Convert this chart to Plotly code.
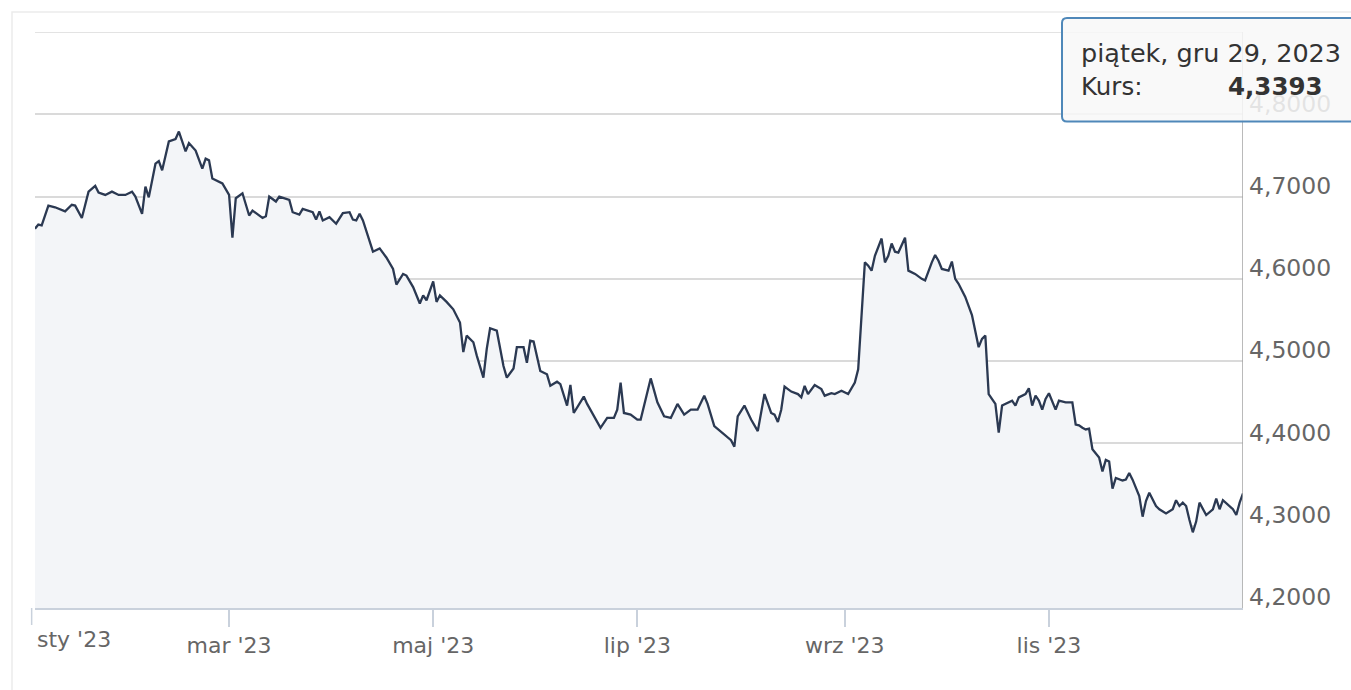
import plotly.graph_objects as go
import datetime as _dt

# ---------------- data ----------------
days = [
    "01-02", "01-03", "01-04", "01-06", "01-08", "01-11", "01-13", "01-14", "01-16", "01-18",
    "01-20", "01-21", "01-23", "01-25", "01-27", "01-29", "01-31", "02-01", "02-03", "02-04",
    "02-05", "02-07", "02-08", "02-09", "02-11", "02-13", "02-14", "02-16", "02-17", "02-19",
    "02-21", "02-22", "02-23", "02-24", "02-27", "03-01", "03-02", "03-03", "03-05", "03-07",
    "03-08", "03-11", "03-12", "03-13", "03-15", "03-16", "03-19", "03-20", "03-22", "03-23",
    "03-26", "03-27", "03-28", "03-29", "03-31", "04-02", "04-04", "04-06", "04-07", "04-08",
    "04-09", "04-10", "04-13", "04-15", "04-17", "04-19", "04-20", "04-22", "04-23", "04-25",
    "04-27", "04-28", "04-29", "05-01", "05-02", "05-03", "05-05", "05-07", "05-09", "05-10",
    "05-11", "05-13", "05-14", "05-16", "05-17", "05-18", "05-20", "05-22", "05-23", "05-25",
    "05-26", "05-28", "05-29", "05-30", "05-31", "06-02", "06-04", "06-05", "06-07", "06-08",
    "06-10", "06-11", "06-12", "06-15", "06-16", "06-18", "06-20", "06-22", "06-24", "06-25",
    "06-26", "06-27", "06-29", "07-01", "07-02", "07-05", "07-07", "07-09", "07-11", "07-13",
    "07-15", "07-17", "07-19", "07-21", "07-22", "07-24", "07-27", "07-29", "07-30", "07-31",
    "08-02", "08-04", "08-06", "08-08", "08-10", "08-11", "08-12", "08-13", "08-14", "08-16",
    "08-18", "08-19", "08-20", "08-21", "08-23", "08-25", "08-26", "08-28", "08-29", "08-31",
    "09-02", "09-04", "09-05", "09-06", "09-07", "09-08", "09-09", "09-10", "09-12", "09-13",
    "09-14", "09-15", "09-16", "09-17", "09-19", "09-20", "09-22", "09-24", "09-25", "09-27",
    "09-28", "09-29", "09-30", "10-02", "10-03", "10-04", "10-05", "10-07", "10-09", "10-11",
    "10-12", "10-13", "10-14", "10-16", "10-17", "10-18", "10-20", "10-21", "10-22", "10-23",
    "10-25", "10-26", "10-27", "10-28", "10-29", "10-30", "10-31", "11-01", "11-03", "11-04",
    "11-06", "11-08", "11-09", "11-10", "11-11", "11-12", "11-13", "11-14", "11-16", "11-17",
    "11-18", "11-19", "11-20", "11-21", "11-23", "11-24", "11-25", "11-26", "11-28", "11-29",
    "11-30", "12-01", "12-03", "12-04", "12-06", "12-08", "12-09", "12-10", "12-11", "12-12",
    "12-13", "12-14", "12-15", "12-16", "12-18", "12-19", "12-20", "12-21", "12-22", "12-23",
    "12-25", "12-26", "12-27", "12-28", "12-29",
]
rates = [
    4.661, 4.666, 4.665, 4.689, 4.687, 4.682, 4.690, 4.689, 4.674, 4.706,
    4.713, 4.705, 4.702, 4.706, 4.702, 4.702, 4.706, 4.700, 4.679, 4.712,
    4.699, 4.740, 4.743, 4.732, 4.767, 4.770, 4.779, 4.755, 4.765, 4.756,
    4.734, 4.746, 4.744, 4.722, 4.716, 4.702, 4.650, 4.698, 4.704, 4.677,
    4.683, 4.674, 4.676, 4.700, 4.694, 4.700, 4.696, 4.681, 4.678, 4.685,
    4.681, 4.672, 4.682, 4.671, 4.675, 4.667, 4.680, 4.681, 4.672, 4.671,
    4.679, 4.671, 4.633, 4.637, 4.626, 4.612, 4.593, 4.606, 4.604, 4.590,
    4.570, 4.580, 4.574, 4.597, 4.572, 4.580, 4.572, 4.563, 4.547, 4.511,
    4.531, 4.523, 4.507, 4.480, 4.515, 4.540, 4.537, 4.494, 4.480, 4.491,
    4.517, 4.517, 4.498, 4.525, 4.524, 4.488, 4.484, 4.470, 4.475, 4.472,
    4.446, 4.471, 4.437, 4.457, 4.448, 4.433, 4.419, 4.431, 4.431, 4.441,
    4.474, 4.437, 4.435, 4.429, 4.429, 4.479, 4.450, 4.433, 4.431, 4.448,
    4.435, 4.441, 4.441, 4.458, 4.448, 4.421, 4.411, 4.404, 4.396, 4.433,
    4.446, 4.429, 4.415, 4.460, 4.437, 4.435, 4.426, 4.441, 4.469, 4.463,
    4.460, 4.456, 4.470, 4.460, 4.471, 4.466, 4.458, 4.461, 4.460, 4.464,
    4.460, 4.474, 4.490, 4.563, 4.620, 4.616, 4.610, 4.628, 4.649, 4.620,
    4.628, 4.643, 4.633, 4.632, 4.650, 4.610, 4.606, 4.600, 4.598, 4.620,
    4.629, 4.622, 4.612, 4.610, 4.621, 4.600, 4.594, 4.578, 4.556, 4.517,
    4.527, 4.531, 4.460, 4.448, 4.413, 4.446, 4.450, 4.452, 4.446, 4.456,
    4.460, 4.467, 4.446, 4.458, 4.452, 4.441, 4.454, 4.461, 4.441, 4.452,
    4.450, 4.450, 4.423, 4.422, 4.419, 4.417, 4.418, 4.393, 4.383, 4.366,
    4.380, 4.378, 4.345, 4.358, 4.355, 4.356, 4.364, 4.356, 4.336, 4.311,
    4.330, 4.340, 4.324, 4.320, 4.315, 4.320, 4.331, 4.324, 4.328, 4.324,
    4.307, 4.292, 4.305, 4.328, 4.313, 4.316, 4.320, 4.333, 4.320, 4.331,
    4.324, 4.320, 4.313, 4.328, 4.3393,
]
year = "2023"
month_ticks = ["2023-03-01", "2023-05-01", "2023-07-01", "2023-09-01", "2023-11-01"]
month_labels = ["mar '23", "maj '23", "lip '23", "wrz '23", "lis '23"]
first_tick = "2023-01-01"
first_label = "sty '23"
y_ticks = [4.2, 4.3, 4.4, 4.5, 4.6, 4.7, 4.8, 4.9]
tooltip_date = "piątek, gru 29, 2023"
tooltip_label = "Kurs:"

dates = [f"{year}-{d}" for d in days]

# ---------------- layout geometry ----------------
W, H = 1351, 690
L, R, T, B = 35, 108, 32, 82
PW, PH = W - L - R, H - T - B


def pxx(x):
    return (x - L) / PW


def pyy(y):
    return (H - B - y) / PH


FONT = "DejaVu Sans"
AXIS_COL = "#c9d1dc"
LABEL_COL = "#666666"

fig = go.Figure()
fig.add_trace(go.Scatter(
    x=dates, y=rates, mode="lines",
    line=dict(color="#2b3952", width=2.3),
    fill="tozeroy", fillcolor="#f3f5f8",
    hoverinfo="skip", showlegend=False,
))

fmt = lambda v: f"{v:.4f}".replace(".", ",")
y_text = [fmt(v) for v in y_ticks[:-1]] + [""]

# position of the first (out-of-range) tick, computed from the dates
d0 = _dt.date.fromisoformat(dates[0])
d1 = _dt.date.fromisoformat(dates[-1])
dft = _dt.date.fromisoformat(first_tick)
first_tick_paper = (dft - d0).days / (d1 - d0).days

shapes = [
    # page container border
    dict(type="rect", xref="paper", yref="paper",
         x0=pxx(12), x1=pxx(1400), y0=pyy(12), y1=pyy(760),
         line=dict(color="#ebebeb", width=1.5), fillcolor="rgba(0,0,0,0)", layer="below"),
    # top grid line (range end)
    dict(type="line", xref="paper", yref="y", x0=0, x1=1, y0=y_ticks[-1], y1=y_ticks[-1],
         line=dict(color="#dadada", width=1.5), layer="below"),
    # first tick
    dict(type="line", xref="paper", yref="paper",
         x0=first_tick_paper, x1=first_tick_paper, y0=0, y1=-17 / PH,
         line=dict(color=AXIS_COL, width=1.5)),
    # crosshair at the hovered point
    dict(type="line", xref="x", yref="paper", x0=dates[-1], x1=dates[-1], y0=0, y1=1,
         line=dict(color="#a3a3a3", width=1.5), layer="above"),
]

# tooltip box (rounded rectangle)
x0, x1, ty0, ty1, r = 1062, 1380, 18, 121.5, 5
pts = lambda x, y: f"{pxx(x):.5f},{pyy(y):.5f}"
path = (f"M {pts(x0 + r, ty0)} L {pts(x1, ty0)} L {pts(x1, ty1)} L {pts(x0 + r, ty1)} "
        f"Q {pts(x0, ty1)} {pts(x0, ty1 - r)} L {pts(x0, ty0 + r)} Q {pts(x0, ty0)} {pts(x0 + r, ty0)} Z")
shapes.append(dict(type="path", xref="paper", yref="paper", path=path,
                   line=dict(color="#4f88b9", width=2),
                   fillcolor="rgba(248,248,248,0.86)", layer="above"))

annotations = [
    dict(text=first_label, xref="paper", yref="paper", x=pxx(35), y=0,
         xanchor="left", yanchor="top", yshift=-17, showarrow=False,
         font=dict(family=FONT, size=22, color=LABEL_COL)),
    dict(text=tooltip_date, xref="paper", yref="paper", x=pxx(1079), y=pyy(53),
         xanchor="left", yanchor="middle", showarrow=False,
         font=dict(family=FONT, size=25.5, color="#333333")),
    dict(text=tooltip_label, xref="paper", yref="paper", x=pxx(1079), y=pyy(86),
         xanchor="left", yanchor="middle", showarrow=False,
         font=dict(family=FONT, size=24.5, color="#333333")),
    dict(text=f"<b>{fmt(rates[-1])}</b>", xref="paper", yref="paper", x=pxx(1325), y=pyy(86),
         xanchor="right", yanchor="middle", showarrow=False,
         font=dict(family=FONT, size=24.5, color="#333333")),
]

fig.update_layout(
    width=W, height=H,
    margin=dict(l=L, r=R, t=T, b=B, autoexpand=False),
    paper_bgcolor="white", plot_bgcolor="white",
    showlegend=False,
    font=dict(family=FONT, size=22, color=LABEL_COL),
    shapes=shapes, annotations=annotations,
    xaxis=dict(
        type="date", range=[dates[0], dates[-1]],
        tickvals=month_ticks, ticktext=month_labels,
        ticks="outside", ticklen=17, tickwidth=1.5, tickcolor=AXIS_COL,
        showline=True, linecolor=AXIS_COL, linewidth=1.5,
        showgrid=False, zeroline=False,
        tickfont=dict(family=FONT, size=22, color=LABEL_COL),
        fixedrange=True,
    ),
    yaxis=dict(
        side="right", range=[y_ticks[0], y_ticks[-1]],
        tickvals=y_ticks, ticktext=y_text,
        ticks="", showline=False, zeroline=False,
        showgrid=True, gridcolor="#dadada", gridwidth=1.5,
        ticklabelstandoff=5, ticklabelshift=-11,
        tickfont=dict(family=FONT, size=23.5, color=LABEL_COL),
        fixedrange=True,
    ),
)

fig.write_html(
    "out.html",
    config={"displayModeBar": False},
    post_script="document.body.style.margin='0';document.body.style.overflow='hidden';",
)
